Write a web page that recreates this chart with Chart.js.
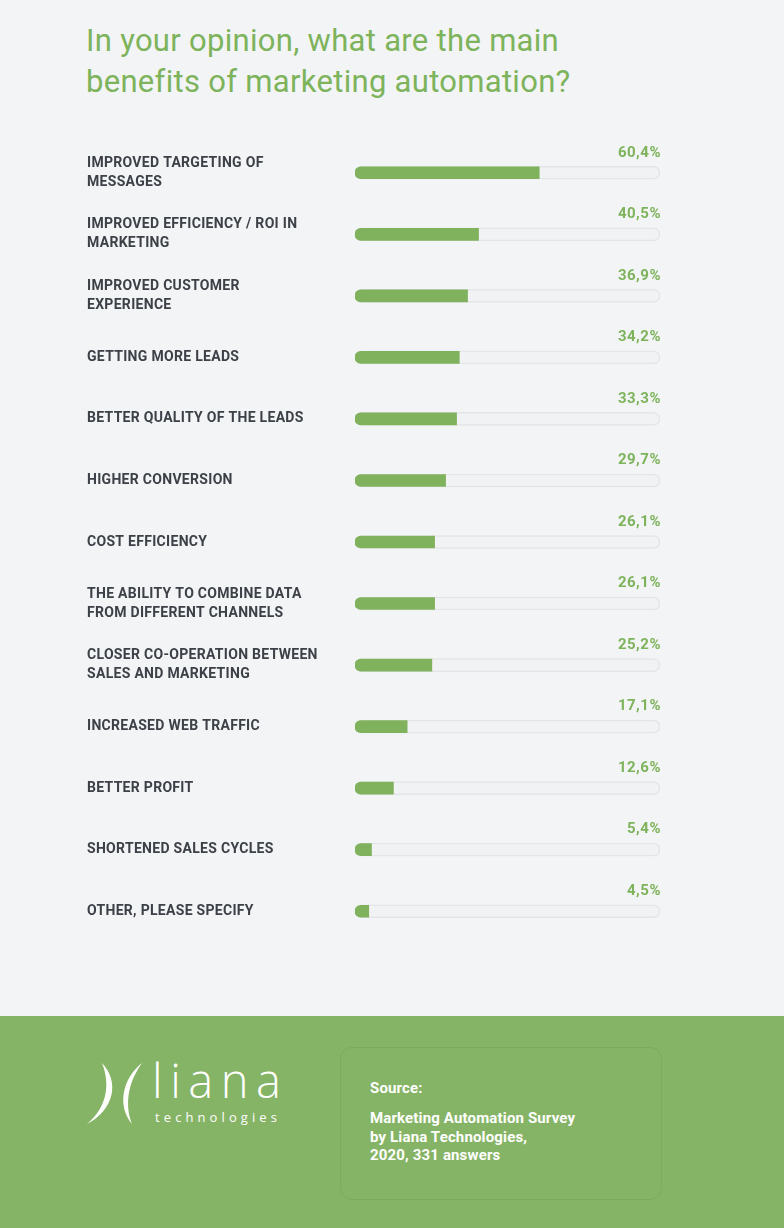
<!DOCTYPE html>
<html>
<head>
<meta charset="utf-8">
<script src="https://cdn.jsdelivr.net/npm/chart.js@4"></script>
<style>
  html, body { margin: 0; padding: 0; }
  body { width: 784px; height: 1228px; background: #f3f4f6; position: relative; overflow: hidden; font-family: Roboto, "Open Sans", sans-serif; }
  #title { position: absolute; left: 86px; top: 20px; margin: 0; font-size: 31px; font-weight: 400; line-height: 41px; color: #7db35b; letter-spacing: 0.3px; }
  #chartBox { position: absolute; left: 0; top: 110px; width: 784px; height: 860px; }
  #footer { position: absolute; left: 0; top: 1016px; width: 784px; height: 212px; background: #86b466; }
  #source { position: absolute; left: 340px; top: 31px; width: 322px; height: 153px; border: 1px solid rgba(0,0,0,0.06); border-radius: 12px; box-sizing: border-box; color: #fff; font-weight: 700; font-size: 15px; line-height: 18.5px; letter-spacing: 0.15px; }
  #source .head { position: absolute; left: 29px; top: 31px; }
  #source .body { position: absolute; left: 29px; top: 61px; }
  #logo { position: absolute; left: 80px; top: 40px; width: 210px; height: 90px; color: #fff; font-family: "Open Sans", sans-serif; }
  #logo .name { position: absolute; left: 72px; top: -8px; font-size: 47px; font-weight: 300; letter-spacing: 7.5px; line-height: 64px; }
  #logo .sub { position: absolute; left: 75px; top: 52px; font-size: 13px; font-weight: 400; letter-spacing: 4.1px; line-height: 18px; }
</style>
</head>
<body>
<h1 id="title">In your opinion, what are the main<br>benefits of marketing automation?</h1>
<div id="chartBox"><canvas id="benefitsChart"></canvas></div>
<div id="footer">
  <div id="logo">
    <svg width="70" height="70" viewBox="0 0 70 70" style="position:absolute;left:0;top:2px">
      <path d="M22 5 C40 24 34 52 7 66 C26 50 31 28 22 5 Z" fill="#fff"/>
      <path d="M62 5 C42 21 37 48 52 66 C45 48 47 26 62 5 Z" fill="#fff"/>
    </svg>
    <div class="name">liana</div>
    <div class="sub">technologies</div>
  </div>
  <div id="source">
    <div class="head">Source:</div>
    <div class="body">Marketing Automation Survey<br>by Liana Technologies,<br>2020, 331 answers</div>
  </div>
</div>
<script>
// Survey answers, share of respondents (%)
const categories = [
  ['IMPROVED TARGETING OF', 'MESSAGES'],
  ['IMPROVED EFFICIENCY / ROI IN', 'MARKETING'],
  ['IMPROVED CUSTOMER', 'EXPERIENCE'],
  'GETTING MORE LEADS',
  'BETTER QUALITY OF THE LEADS',
  'HIGHER CONVERSION',
  'COST EFFICIENCY',
  ['THE ABILITY TO COMBINE DATA', 'FROM DIFFERENT CHANNELS'],
  ['CLOSER CO-OPERATION BETWEEN', 'SALES AND MARKETING'],
  'INCREASED WEB TRAFFIC',
  'BETTER PROFIT',
  'SHORTENED SALES CYCLES',
  'OTHER, PLEASE SPECIFY'
];
const values = [60.4, 40.5, 36.9, 34.2, 33.3, 29.7, 26.1, 26.1, 25.2, 17.1, 12.6, 5.4, 4.5];
const trackMax = 100;
const trackValues = categories.map(() => trackMax);

const green = '#80b25e';

// a bit of letter spacing for all canvas text, like the original typeface
const spacing = {
  id: 'spacing',
  beforeDraw(chart) { chart.ctx.letterSpacing = '0.3px'; }
};

// draws the percentage above the right end of each track
const valueLabels = {
  id: 'valueLabels',
  afterDatasetsDraw(chart) {
    const ctx = chart.ctx;
    const x = chart.scales.x.getPixelForValue(trackMax);
    ctx.save();
    ctx.fillStyle = '#7db35b';
    ctx.font = 'bold 15px Roboto';
    ctx.letterSpacing = '0.5px';
    ctx.textAlign = 'right';
    ctx.textBaseline = 'middle';
    values.forEach((v, i) => {
      const y = chart.scales.y.getPixelForValue(i);
      ctx.fillText(v.toFixed(1).replace('.', ',') + '%', x + 1, y - 20);
    });
    ctx.restore();
  }
};

const ctx = document.getElementById('benefitsChart').getContext('2d');
new Chart(ctx, {
  type: 'bar',
  data: {
    labels: categories,
    datasets: [
      {
        data: values,
        backgroundColor: green,
        borderWidth: 0,
        borderSkipped: false,
        borderRadius: { topLeft: 6, bottomLeft: 6, topRight: 0, bottomRight: 0 },
        barThickness: 12,
        grouped: false,
        order: 1
      },
      {
        data: trackValues,
        backgroundColor: '#f1f2f4',
        borderColor: '#e4e5e8',
        borderWidth: 1.5,
        borderSkipped: false,
        borderRadius: 7,
        barThickness: 13,
        grouped: false,
        order: 2
      }
    ]
  },
  options: {
    indexAxis: 'y',
    responsive: true,
    maintainAspectRatio: false,
    animation: false,
    layout: { padding: { left: 87, right: 124, top: 32, bottom: 28 } },
    plugins: {
      legend: { display: false },
      tooltip: { enabled: false }
    },
    scales: {
      x: {
        display: false,
        min: 0,
        max: trackMax
      },
      y: {
        afterFit(scale) { scale.width = 268; },
        grid: { display: false },
        border: { display: false },
        ticks: {
          crossAlign: 'far',
          color: '#3c4047',
          font: { family: 'Roboto', size: 14, weight: 'bold', lineHeight: 19 / 14 }
        }
      }
    }
  },
  plugins: [spacing, valueLabels]
});
</script>
</body>
</html>
